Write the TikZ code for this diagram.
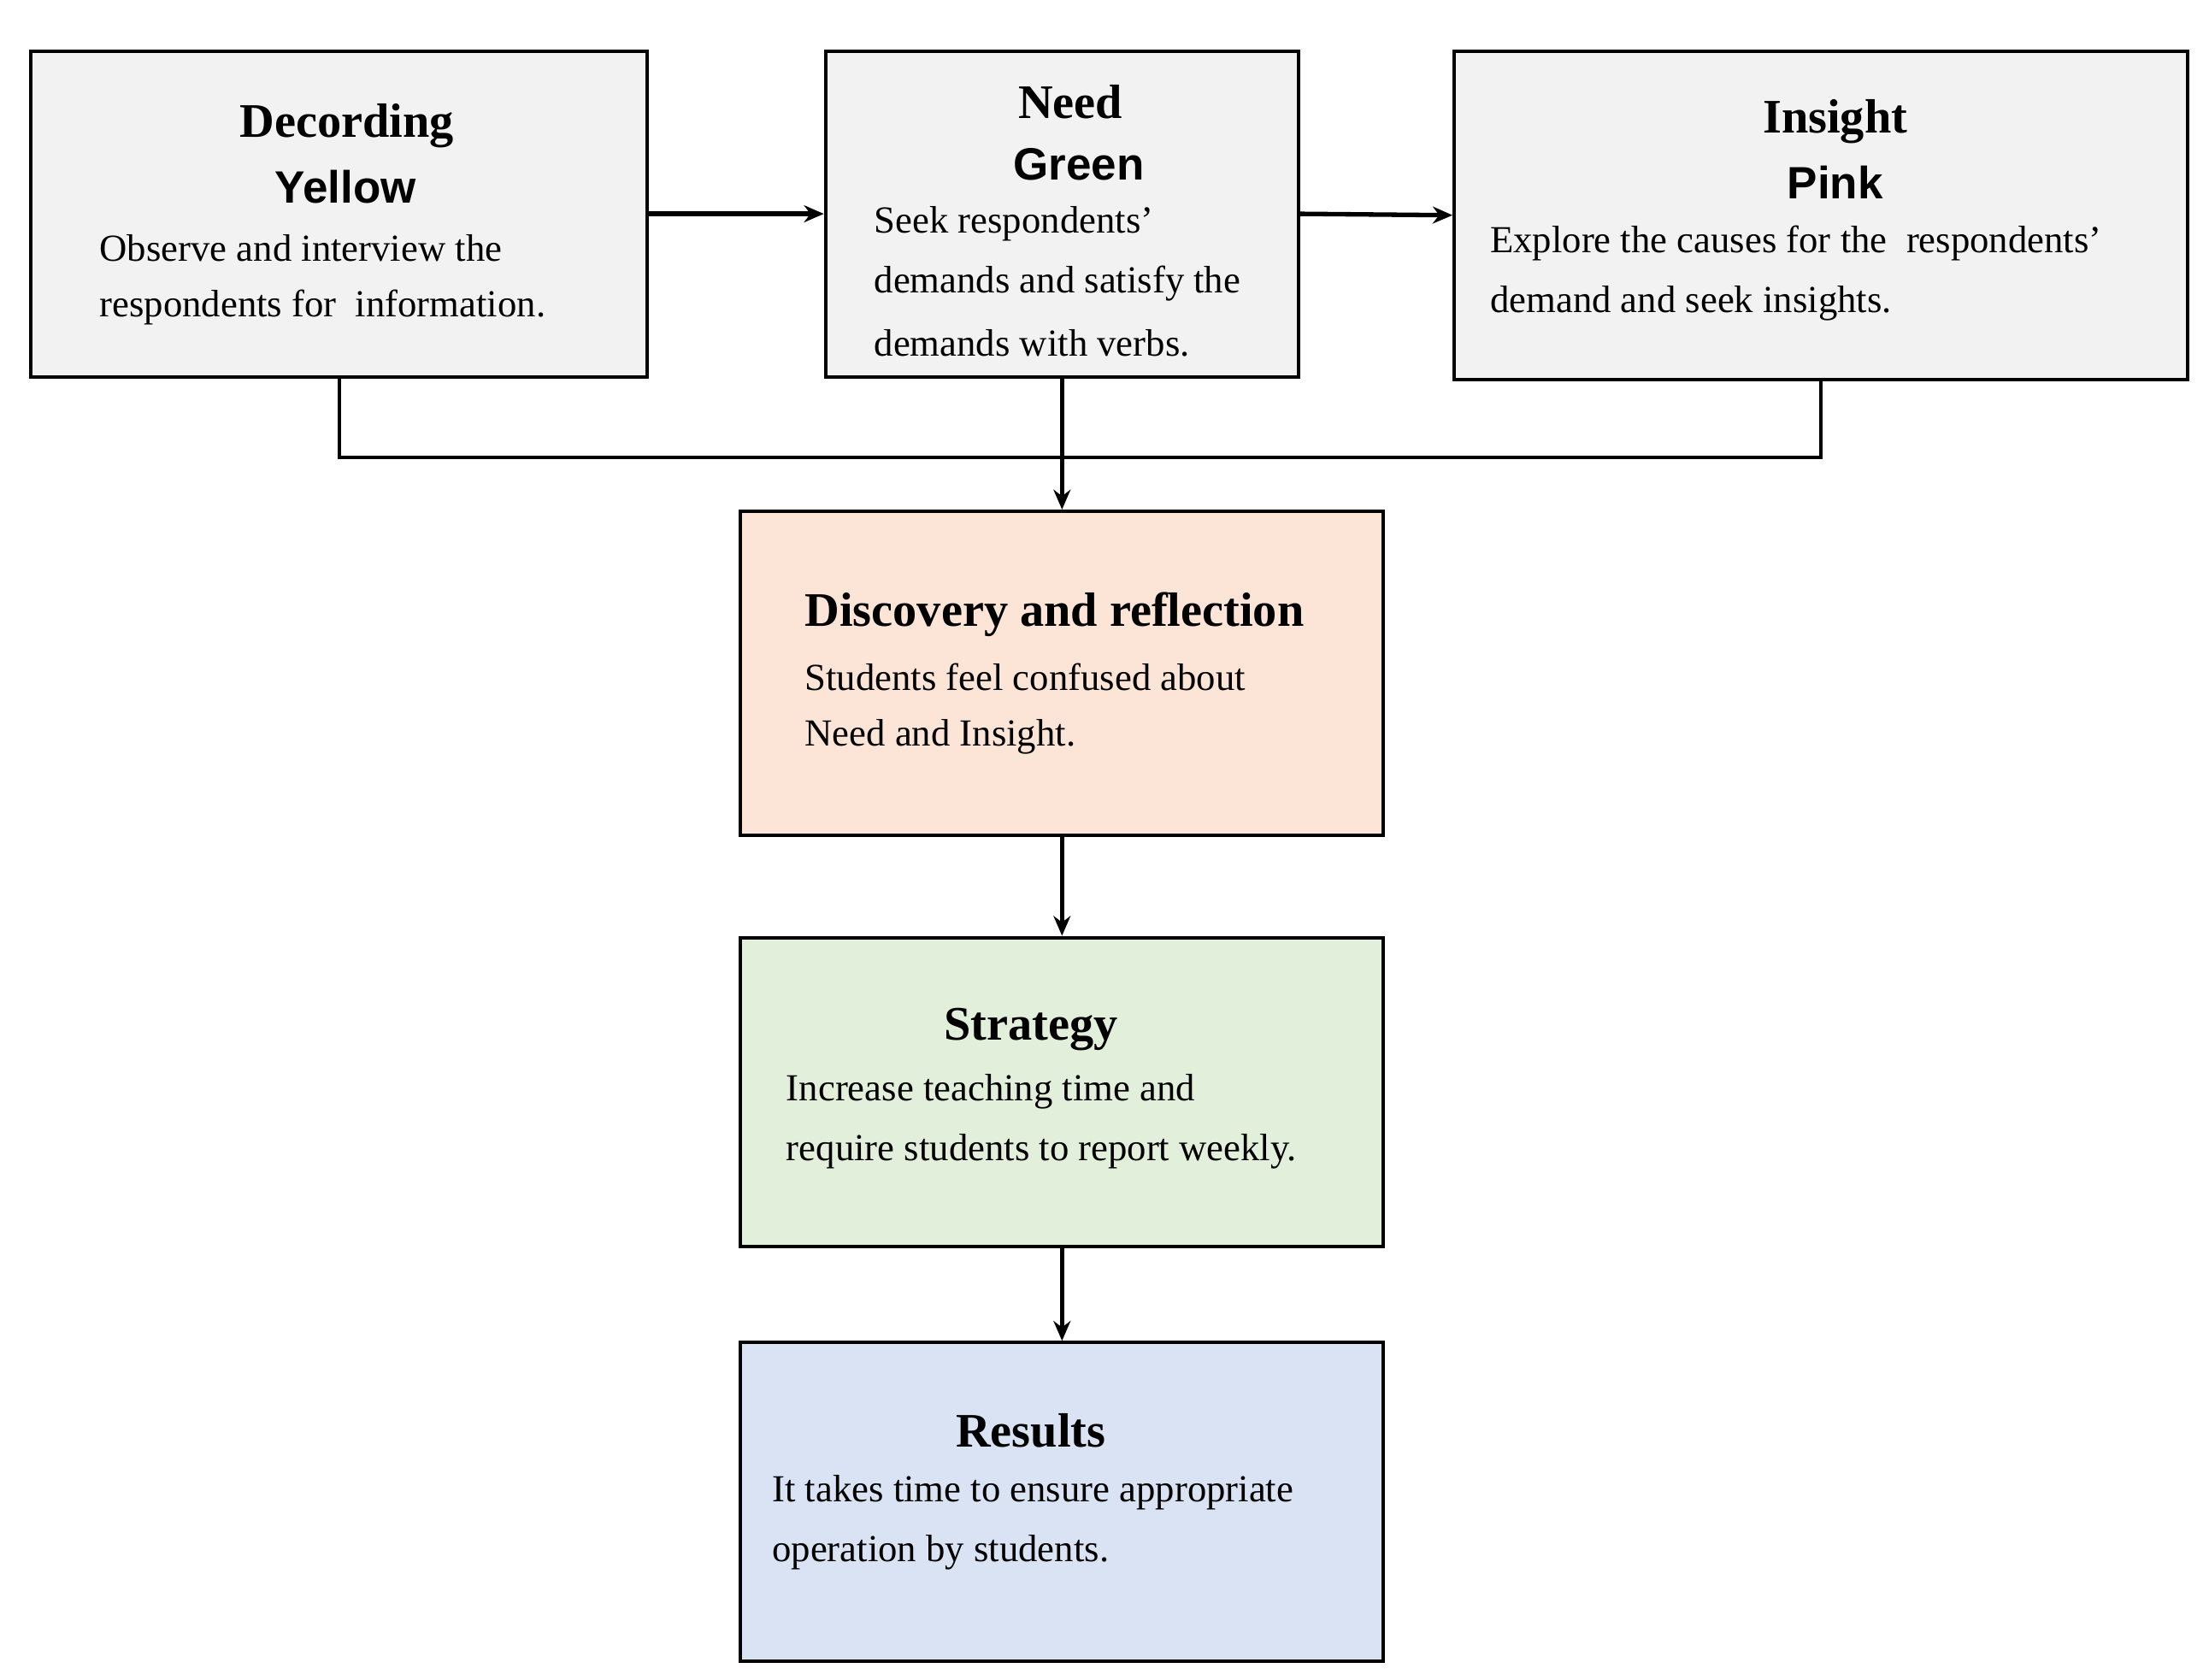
\documentclass[tikz,border=0pt]{standalone}
\usepackage{fontspec}
\setmainfont{Liberation Serif}
\newfontfamily\sansf{Liberation Sans}
\usetikzlibrary{arrows.meta}
\definecolor{topfill}{HTML}{F2F2F2}
\definecolor{peach}{HTML}{FCE4D6}
\definecolor{lgreen}{HTML}{E2EFDA}
\definecolor{lblue}{HTML}{DAE3F3}
\begin{document}
\begin{tikzpicture}[x=0.5pt,y=-0.5pt,
  box/.style={draw,line width=1.2pt},
  ttl/.style={font=\fontsize{17}{20}\selectfont\bfseries,inner sep=0pt},
  col/.style={font=\fontsize{16}{20}\selectfont\sansf\bfseries,inner sep=0pt},
  bod/.style={font=\fontsize{13.5}{20}\selectfont,inner sep=0pt,anchor=west},
  arr/.style={line width=1.6pt,-{Stealth[length=7pt,width=6pt]}}]
\useasboundingbox (0,0) rectangle (1560,1186);
\node[box,fill=topfill,minimum width=217.5pt,minimum height=115pt] (b1) at (239.5,151) {};
\node[box,fill=topfill,minimum width=167pt,minimum height=115pt] (b2) at (750,151) {};
\node[box,fill=topfill,minimum width=259pt,minimum height=116pt] (b3) at (1286,152) {};
\node[box,fill=peach,minimum width=227pt,minimum height=114.5pt] (b4) at (750,475.5) {};
\node[box,fill=lgreen,minimum width=227pt,minimum height=109pt] (b5) at (750,771) {};
\node[box,fill=lblue,minimum width=227pt,minimum height=112.5pt] (b6) at (750,1060.5) {};
% texts
\node[ttl] (t1) at (245,89) {Decording};
\node[col] (c1) at (244,132) {Yellow};
\node[bod] (l11) at (70,175) {Observe and interview the};
\node[bod] (l12) at (70,217) {respondents for\ \ information.};
\node[ttl] (t2) at (756,72) {Need};
\node[col] (c2) at (762,116) {Green};
\node[bod] (l21) at (617,158) {Seek respondents’};
\node[bod] (l22) at (617,200) {demands and satisfy the};
\node[bod] (l23) at (617,242) {demands with verbs.};
\node[ttl] (t3) at (1296,86) {Insight};
\node[col] (c3) at (1296,129) {Pink};
\node[bod] (l31) at (1052,172) {Explore the causes for the\ \ respondents’};
\node[bod] (l32) at (1052,214) {demand and seek insights.};
\node[ttl,anchor=west] (t4) at (568,434) {Discovery and reflection};
\node[bod] (l41) at (568,478) {Students feel confused about};
\node[bod] (l42) at (568,520) {Need and Insight.};
\node[ttl] (t5) at (728,727) {Strategy};
\node[bod] (l51) at (555,771) {Increase teaching time and};
\node[bod] (l52) at (555,813) {require students to report weekly.};
\node[ttl] (t6) at (728,1010) {Results};
\node[bod] (l61) at (545,1054) {It takes time to ensure appropriate};
\node[bod] (l62) at (545,1096) {operation by students.};
% connectors
\draw[arr] (b1.east) -- (b2.west);
\draw[arr] (b2.east) -- (b3.west);
\draw[line width=1.2pt] (b1.south) -- ++(0,56) -| (b3.south);
\draw[arr] (b2.south) -- (b4.north);
\draw[arr] (b4.south) -- (b5.north);
\draw[arr] (b5.south) -- (b6.north);
\end{tikzpicture}
\end{document}
